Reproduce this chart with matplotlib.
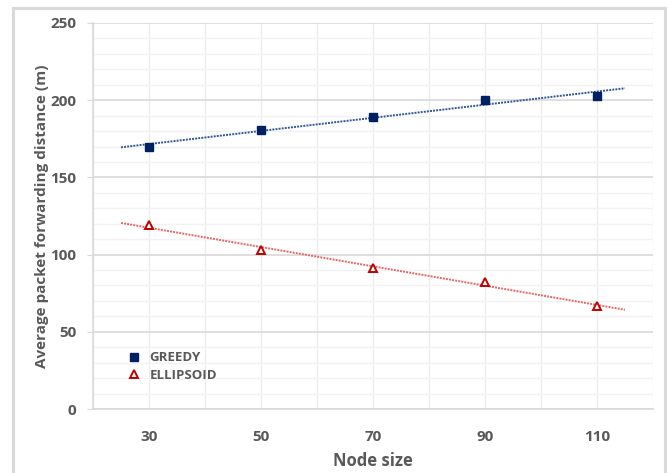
import matplotlib
matplotlib.use("Agg")
import numpy as np
import matplotlib.pyplot as plt
from matplotlib.patches import Rectangle
from matplotlib.ticker import MultipleLocator, FixedLocator

# node sizes and average forwarding distance (m)
node_size = [30, 50, 70, 90, 110]
greedy = [170, 181, 189, 200, 203]
ellipsoid = [119, 103, 91, 82, 67]

plt.rcParams['font.family'] = ['Open Sans', 'DejaVu Sans']
TXT = '#595959'

fig = plt.figure(figsize=(6.68, 4.73), dpi=100)
ax = fig.add_axes([93 / 668, 64 / 473, 560 / 668, 386 / 473])

# chart border
fig.patches.append(Rectangle((13 / 668, -0.1), 652 / 668, 1.1 - 8 / 473,
                             transform=fig.transFigure, fill=False,
                             ec='#D9D9D9', lw=2.2, zorder=0))


def trend(x, y, x0, x1):
    k, b = np.polyfit(x, y, 1)
    xs = np.array([x0, x1])
    return xs, k * xs + b


tx, ty = trend(node_size, greedy, 25, 115)
ax.plot(tx, ty, ls=(0, (1, 0.6)), lw=1.4, color='#2F5597', zorder=3)
tx, ty = trend(node_size, ellipsoid, 25, 115)
ax.plot(tx, ty, ls=(0, (1, 0.6)), lw=1.4, color='#E06666', zorder=3)

ax.plot(node_size, greedy, ls='none', marker='s', ms=5.6, color='#002060',
        label='GREEDY', zorder=4)
ax.plot(node_size, ellipsoid, ls='none', marker='^', ms=5.6, mfc='white',
        mec='#C00000', mew=1.4, label='ELLIPSOID', zorder=4)

ax.set_xlim(20, 120)
ax.set_ylim(0, 250)
ax.xaxis.set_major_locator(FixedLocator(node_size))
ax.xaxis.set_minor_locator(MultipleLocator(10))
ax.yaxis.set_major_locator(MultipleLocator(50))
ax.yaxis.set_minor_locator(MultipleLocator(10))

ax.grid(which='major', axis='y', color='#D9D9D9', lw=1.2)
ax.grid(which='minor', axis='y', color='#F2F2F2', lw=1.0)
ax.grid(which='both', axis='x', color='#EDEDED', lw=1.0)
ax.set_axisbelow(True)

for s in ['top', 'right']:
    ax.spines[s].set_visible(False)
ax.spines['left'].set_color('#D9D9D9')
ax.spines['bottom'].set_color('#D9D9D9')
ax.spines['left'].set_linewidth(1.2)
ax.spines['bottom'].set_linewidth(1.2)

ax.tick_params(axis='y', which='major', length=4, color='#D9D9D9', pad=8,
               labelsize=11, labelcolor=TXT)
ax.tick_params(axis='x', which='major', length=0, pad=15, labelsize=11,
               labelcolor=TXT)
ax.tick_params(which='minor', length=0)
for lab in ax.get_xticklabels() + ax.get_yticklabels():
    lab.set_fontweight('bold')

ax.set_xlabel('Node size', fontsize=12, fontweight='bold', color=TXT, labelpad=6)
ax.set_ylabel('Average packet forwarding distance (m)', fontsize=11,
              fontweight='bold', color=TXT, labelpad=1)

leg = ax.legend(loc='upper left', bbox_to_anchor=(0.037, 0.18), frameon=False,
                handlelength=1.2, handletextpad=0.6, labelspacing=0.35,
                prop={'size': 9.5, 'weight': 'bold'})
for t in leg.get_texts():
    t.set_color(TXT)

fig.savefig('out.png', dpi=100)
